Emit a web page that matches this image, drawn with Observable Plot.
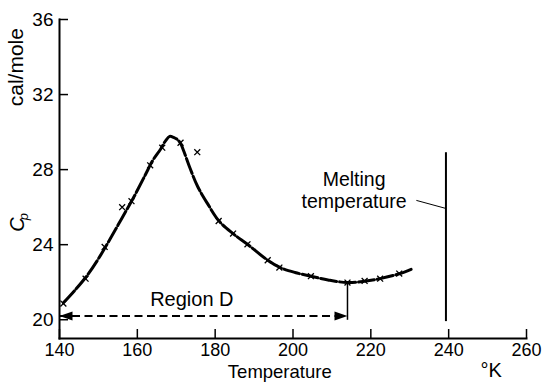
<!DOCTYPE html>
<html>
<head>
<meta charset="utf-8">
<script src="https://cdn.jsdelivr.net/npm/d3@7"></script>
<script src="https://cdn.jsdelivr.net/npm/@observablehq/plot@0.6"></script>
<style>
  html, body { margin: 0; padding: 0; background: #fff; }
</style>
</head>
<body>
<div id="chart"></div>
<script>
// Tick values
const xTicks = [140, 160, 180, 200, 220, 240, 260];
const yTicks = [20, 24, 28, 32, 36];

// Measured points (×)
const obsT  = [141.0, 146.7, 151.6, 156.1, 158.5, 163.3, 166.4, 171.1, 175.4, 180.9, 184.6, 188.3, 193.5, 196.5, 204.6, 214.0, 218.4, 222.4, 227.3];
const obsCp = [20.86, 22.19, 23.88, 26.0, 26.32, 28.23, 29.17, 29.43, 28.93, 25.26, 24.59, 24.02, 23.17, 22.78, 22.32, 21.98, 22.07, 22.19, 22.46];

// Drawn smooth curve
const curveT  = [141, 144, 147, 150, 153, 156, 159, 162, 164, 166, 167.3, 168.3, 169.3, 170.3, 171.1, 172, 173.5, 175.5, 178, 181, 184.6, 188.3, 193.5, 196.5, 200.5, 204.6, 209, 214, 218.4, 222.4, 227.3, 230.5];
const curveCp = [20.9, 21.58, 22.33, 23.25, 24.3, 25.4, 26.5, 27.7, 28.5, 29.1, 29.55, 29.77, 29.72, 29.6, 29.4, 28.95, 28.1, 27.1, 26.2, 25.26, 24.59, 24.02, 23.17, 22.8, 22.52, 22.32, 22.12, 21.98, 22.05, 22.19, 22.45, 22.7];

// Melting temperature
const meltT = [239.3];
const meltRange = [19.9, 28.9];
const leaderT = [231.7, 239.3];
const leaderCp = [26.36, 25.93];
const meltLabels = ["Melting", "temperature"];
const meltLabelT = [215.7, 215.7];
const meltLabelCp = [27.45, 26.28];

// Region D
const regionStart = 140, regionEnd = 214, regionCp = 20.2;
const regionTick = [19.97, 21.98];
const regionLabel = "Region D";
const regionLabelPos = [174.0, 21.05];

const curve = curveT.map((t, i) => ({t, cp: curveCp[i]}));
const obs = obsT.map((t, i) => ({t, cp: obsCp[i]}));

const arrowRight = { draw(ctx) { ctx.moveTo(0, 0); ctx.lineTo(-13, -4.5); ctx.lineTo(-13, 4.5); ctx.closePath(); } };
const arrowLeft  = { draw(ctx) { ctx.moveTo(0, 0); ctx.lineTo(13, -4.5); ctx.lineTo(13, 4.5); ctx.closePath(); } };

const font = "'Liberation Sans', Arial, sans-serif";

const chart = Plot.plot({
  width: 546,
  height: 382,
  marginLeft: 59,
  marginRight: 20,
  marginTop: 19,
  marginBottom: 44,
  style: { fontFamily: font, fontSize: "19px", color: "#000", background: "#fff" },
  x: { domain: [140, 260] },
  y: { domain: [19, 36] },
  marks: [
    Plot.frame({ anchor: "left", stroke: "#000", strokeWidth: 2 }),
    Plot.frame({ anchor: "bottom", stroke: "#000", strokeWidth: 2 }),
    Plot.axisX({ ticks: xTicks, tickSize: -9, tickFormat: () => "", label: null, strokeWidth: 1.5 }),
    Plot.axisX({ ticks: xTicks, tickSize: 0, tickPadding: 5, label: null, fontSize: 18, fill: "#000" }),
    Plot.axisY({ ticks: yTicks, tickSize: -9, tickFormat: () => "", label: null, strokeWidth: 1.5 }),
    Plot.axisY({ ticks: yTicks, tickSize: 0, tickPadding: 6, label: null, fontSize: 19, fill: "#000" }),
    Plot.line(curve, { x: "t", y: "cp", curve: "catmull-rom", stroke: "#000", strokeWidth: 3, strokeDasharray: "16,3" }),
    Plot.dot(obs, { x: "t", y: "cp", symbol: "times", r: 2.8, stroke: "#000", strokeWidth: 1.3 }),
    Plot.ruleX(meltT, { y1: meltRange[0], y2: meltRange[1], stroke: "#000", strokeWidth: 2 }),
    Plot.link([0], { x1: () => leaderT[0], y1: () => leaderCp[0], x2: () => leaderT[1], y2: () => leaderCp[1], stroke: "#000", strokeWidth: 1 }),
    Plot.text(meltLabels, { x: (d, i) => meltLabelT[i], y: (d, i) => meltLabelCp[i], text: d => d, textAnchor: "middle", fontSize: 19.5, fill: "#000" }),
    Plot.link([0], { x1: () => regionStart, x2: () => regionEnd, y1: () => regionCp, y2: () => regionCp, stroke: "#000", strokeWidth: 2, strokeDasharray: "8,4.5" }),
    Plot.ruleX([regionEnd], { y1: regionTick[0], y2: regionTick[1], stroke: "#000", strokeWidth: 1.5 }),
    Plot.dot([regionEnd], { x: d => d, y: () => regionCp, symbol: arrowRight, r: 5, fill: "#000", stroke: null }),
    Plot.dot([regionStart], { x: d => d, y: () => regionCp, symbol: arrowLeft, r: 5, fill: "#000", stroke: null }),
    Plot.text([regionLabel], { x: () => regionLabelPos[0], y: () => regionLabelPos[1], text: d => d, textAnchor: "middle", fontSize: 20, fill: "#000" }),
    Plot.text(["Temperature"], { x: () => 196.6, frameAnchor: "bottom", dy: 39, text: d => d, textAnchor: "middle", fontSize: 18.5, fill: "#000" }),
    Plot.text(["°K"], { x: () => 250.9, frameAnchor: "bottom", dy: 38, text: d => d, textAnchor: "middle", fontSize: 20, fill: "#000" }),
    Plot.text(["cal/mole"], { y: () => 33.46, frameAnchor: "left", dx: -43, rotate: -90, text: d => d, textAnchor: "middle", fontSize: 21, fill: "#000" }),
    Plot.text(["C"], { y: () => 25.08, frameAnchor: "left", dx: -42, rotate: -90, text: d => d, textAnchor: "middle", fontSize: 20, fontStyle: "italic", fill: "#000" }),
    Plot.text(["p"], { y: () => 25.5, frameAnchor: "left", dx: -36, rotate: -90, text: d => d, textAnchor: "middle", fontSize: 13, fontStyle: "italic", fill: "#000" })
  ]
});
document.getElementById("chart").appendChild(chart);
</script>
</body>
</html>
